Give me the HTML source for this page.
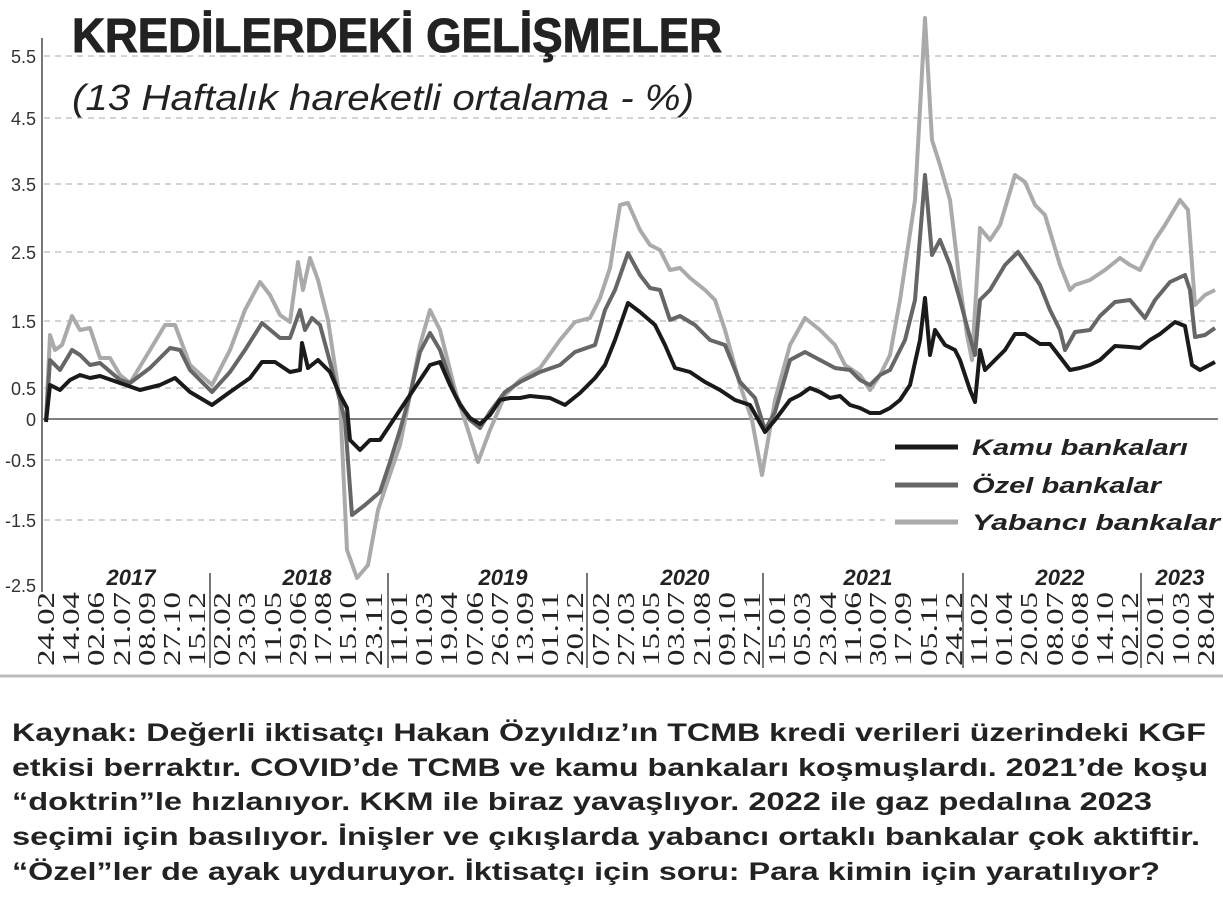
<!DOCTYPE html><html><head><meta charset="utf-8"><style>body{margin:0;background:#fff}svg{display:block}</style></head><body>
<svg width="1223" height="900" xmlns="http://www.w3.org/2000/svg" font-family="Liberation Sans, sans-serif">
<rect width="1223" height="900" fill="#fff"/>
<g stroke="#aaa" stroke-dasharray="6,5" stroke-width="1">
<line x1="44" x2="1218" y1="56" y2="56"/><line x1="44" x2="1218" y1="118" y2="118"/><line x1="44" x2="1218" y1="184" y2="184"/><line x1="44" x2="1218" y1="252" y2="252"/><line x1="44" x2="1218" y1="321" y2="321"/><line x1="44" x2="1218" y1="388" y2="388"/><line x1="44" x2="1218" y1="460" y2="460"/><line x1="44" x2="1218" y1="520" y2="520"/>
</g>
<line x1="42" x2="1218" y1="419" y2="419" stroke="#333" stroke-width="1.2"/>
<line x1="42" x2="42" y1="38" y2="592" stroke="#777" stroke-width="2"/>
<line x1="0" x2="1223" y1="676" y2="676" stroke="#bbb" stroke-width="3"/>
<g font-size="18" fill="#333" text-anchor="end" font-family="Liberation Sans Narrow, Liberation Sans, sans-serif">
<text x="36" y="63">5.5</text><text x="36" y="125">4.5</text><text x="36" y="191">3.5</text><text x="36" y="259">2.5</text><text x="36" y="328">1.5</text><text x="36" y="395">0.5</text><text x="36" y="426">0</text><text x="36" y="467">-0.5</text><text x="36" y="527">-1.5</text><text x="36" y="592">-2.5</text>
</g>
<text x="72" y="52" font-size="48" font-weight="bold" fill="#222" stroke="#222" stroke-width="1" textLength="650" lengthAdjust="spacingAndGlyphs">KREDİLERDEKİ GELİŞMELER</text>
<text x="72" y="110" font-size="36" font-style="italic" fill="#222" textLength="622" lengthAdjust="spacingAndGlyphs">(13 Haftalık hareketli ortalama - %)</text>
<g stroke="#777" stroke-width="2"><line x1="210" x2="210" y1="573" y2="668"/><line x1="388" x2="388" y1="573" y2="668"/><line x1="587" x2="587" y1="573" y2="668"/><line x1="763" x2="763" y1="573" y2="668"/><line x1="963" x2="963" y1="573" y2="668"/><line x1="1141" x2="1141" y1="573" y2="668"/></g>
<g font-size="22" font-weight="bold" font-style="italic" fill="#222" text-anchor="middle">
<text x="131" y="585">2017</text><text x="307" y="585">2018</text><text x="503" y="585">2019</text><text x="685" y="585">2020</text><text x="868" y="585">2021</text><text x="1060" y="585">2022</text><text x="1180" y="585">2023</text>
</g>
<polyline fill="none" stroke="#aaa" stroke-width="4" stroke-linejoin="round" points="46,420 50,335 55,350 62,345 72,316 80,330 90,328 100,358 110,358 120,375 130,383 150,350 165,325 175,325 190,365 212,385 230,350 245,310 260,282 270,295 280,315 290,322 298,262 303,290 310,258 318,280 328,320 340,400 347,550 357,578 368,565 378,510 388,480 400,445 410,395 420,345 430,310 440,330 455,390 468,430 478,462 490,430 505,395 520,380 540,368 560,340 575,322 590,318 600,298 610,268 620,205 628,203 640,230 650,245 660,250 670,270 680,268 690,278 705,290 715,300 725,330 740,385 752,420 762,475 775,400 790,345 805,318 820,330 835,345 845,365 860,375 870,390 880,375 890,355 900,300 915,200 925,18 932,140 940,165 950,200 960,285 967,335 972,360 980,228 990,240 1000,225 1015,175 1025,182 1035,205 1045,215 1060,265 1070,290 1075,285 1090,280 1105,270 1120,258 1130,265 1140,270 1155,240 1165,225 1180,200 1188,210 1195,305 1205,295 1215,290"/>
<polyline fill="none" stroke="#666" stroke-width="4" stroke-linejoin="round" points="46,420 50,360 60,370 72,350 80,355 90,365 100,363 120,380 130,383 150,368 170,348 180,350 190,370 212,392 230,372 245,350 262,323 280,338 290,338 300,310 305,330 312,318 320,325 330,362 345,420 352,515 365,505 380,492 390,462 400,430 410,395 420,352 430,333 440,350 455,395 470,420 480,428 490,412 505,392 520,382 540,372 560,365 575,352 595,345 605,310 615,290 628,253 640,275 650,288 660,290 670,320 680,316 695,325 710,340 725,345 740,382 755,398 765,430 775,412 790,360 805,352 820,360 835,368 850,370 860,380 870,385 880,375 890,370 905,340 915,300 925,175 932,255 940,240 950,265 960,300 968,330 975,355 980,300 990,290 1005,265 1018,252 1025,262 1040,285 1050,310 1060,330 1065,350 1075,332 1090,330 1100,316 1115,302 1130,300 1145,318 1155,300 1170,282 1185,275 1190,290 1195,337 1205,335 1215,328"/>
<polyline fill="none" stroke="#1a1a1a" stroke-width="4" stroke-linejoin="round" points="46,422 50,385 60,390 70,380 80,375 90,378 100,376 120,383 140,390 160,385 175,378 190,392 212,405 230,392 250,378 262,362 275,362 290,372 300,370 302,343 308,368 318,360 330,372 340,395 347,408 350,440 360,450 370,440 380,440 390,425 400,410 410,395 420,380 430,365 440,362 450,385 460,405 470,418 480,424 490,415 500,400 510,398 520,398 530,396 550,398 565,405 580,393 595,378 605,365 615,340 628,303 640,312 655,325 665,345 675,368 690,372 705,382 720,390 735,400 750,405 765,432 775,420 790,400 800,395 810,388 820,392 830,398 840,396 850,405 860,408 870,413 880,413 890,408 900,400 910,385 920,340 925,298 930,355 935,330 945,345 955,350 960,360 970,390 975,402 980,350 985,370 995,360 1005,350 1015,334 1025,334 1040,344 1050,344 1060,357 1070,370 1080,368 1090,365 1100,360 1115,346 1130,347 1140,348 1150,340 1160,334 1175,322 1185,326 1192,365 1200,370 1215,362"/>
<rect x="885" y="430" width="335" height="110" fill="#fff"/>
<line x1="895" x2="958" y1="447" y2="447" stroke="#1a1a1a" stroke-width="5"/>
<line x1="895" x2="958" y1="485" y2="485" stroke="#666" stroke-width="5"/>
<line x1="895" x2="958" y1="522" y2="522" stroke="#aaa" stroke-width="5"/>
<g font-size="22" font-weight="bold" font-style="italic" fill="#222">
<text x="972" y="455" textLength="216" lengthAdjust="spacingAndGlyphs">Kamu bankaları</text><text x="972" y="493" textLength="189" lengthAdjust="spacingAndGlyphs">Özel bankalar</text><text x="972" y="530" textLength="248" lengthAdjust="spacingAndGlyphs">Yabancı bankalar</text>
</g>
<g font-size="25" font-weight="bold" fill="#222">
<text x="12" y="741" textLength="1194" lengthAdjust="spacingAndGlyphs">Kaynak: Değerli iktisatçı Hakan Özyıldız’ın TCMB kredi verileri üzerindeki KGF</text>
<text x="12" y="776" textLength="1196" lengthAdjust="spacingAndGlyphs">etkisi berraktır. COVID’de TCMB ve kamu bankaları koşmuşlardı. 2021’de koşu</text>
<text x="12" y="810" textLength="1140" lengthAdjust="spacingAndGlyphs">“doktrin”le hızlanıyor. KKM ile biraz yavaşlıyor. 2022 ile gaz pedalına 2023</text>
<text x="12" y="845" textLength="1188" lengthAdjust="spacingAndGlyphs">seçimi için basılıyor. İnişler ve çıkışlarda yabancı ortaklı bankalar çok aktiftir.</text>
<text x="12" y="880" textLength="1148" lengthAdjust="spacingAndGlyphs">“Özel”ler de ayak uyduruyor. İktisatçı için soru: Para kimin için yaratılıyor?</text>
</g>
<g font-size="24" fill="#222" text-anchor="end" font-family="Liberation Serif, serif">
<text transform="translate(54,592) rotate(-90)" textLength="74" lengthAdjust="spacingAndGlyphs">24.02</text>
<text transform="translate(79,592) rotate(-90)" textLength="74" lengthAdjust="spacingAndGlyphs">14.04</text>
<text transform="translate(104,592) rotate(-90)" textLength="74" lengthAdjust="spacingAndGlyphs">02.06</text>
<text transform="translate(130,592) rotate(-90)" textLength="74" lengthAdjust="spacingAndGlyphs">21.07</text>
<text transform="translate(155,592) rotate(-90)" textLength="74" lengthAdjust="spacingAndGlyphs">08.09</text>
<text transform="translate(180,592) rotate(-90)" textLength="74" lengthAdjust="spacingAndGlyphs">27.10</text>
<text transform="translate(205,592) rotate(-90)" textLength="74" lengthAdjust="spacingAndGlyphs">15.12</text>
<text transform="translate(230,592) rotate(-90)" textLength="74" lengthAdjust="spacingAndGlyphs">02.02</text>
<text transform="translate(255,592) rotate(-90)" textLength="74" lengthAdjust="spacingAndGlyphs">23.03</text>
<text transform="translate(281,592) rotate(-90)" textLength="74" lengthAdjust="spacingAndGlyphs">11.05</text>
<text transform="translate(306,592) rotate(-90)" textLength="74" lengthAdjust="spacingAndGlyphs">29.06</text>
<text transform="translate(331,592) rotate(-90)" textLength="74" lengthAdjust="spacingAndGlyphs">17.08</text>
<text transform="translate(356,592) rotate(-90)" textLength="74" lengthAdjust="spacingAndGlyphs">15.10</text>
<text transform="translate(382,592) rotate(-90)" textLength="74" lengthAdjust="spacingAndGlyphs">23.11</text>
<text transform="translate(407,592) rotate(-90)" textLength="74" lengthAdjust="spacingAndGlyphs">11.01</text>
<text transform="translate(432,592) rotate(-90)" textLength="74" lengthAdjust="spacingAndGlyphs">01.03</text>
<text transform="translate(457,592) rotate(-90)" textLength="74" lengthAdjust="spacingAndGlyphs">19.04</text>
<text transform="translate(483,592) rotate(-90)" textLength="74" lengthAdjust="spacingAndGlyphs">07.06</text>
<text transform="translate(508,592) rotate(-90)" textLength="74" lengthAdjust="spacingAndGlyphs">26.07</text>
<text transform="translate(533,592) rotate(-90)" textLength="74" lengthAdjust="spacingAndGlyphs">13.09</text>
<text transform="translate(558,592) rotate(-90)" textLength="74" lengthAdjust="spacingAndGlyphs">01.11</text>
<text transform="translate(583,592) rotate(-90)" textLength="74" lengthAdjust="spacingAndGlyphs">20.12</text>
<text transform="translate(609,592) rotate(-90)" textLength="74" lengthAdjust="spacingAndGlyphs">07.02</text>
<text transform="translate(634,592) rotate(-90)" textLength="74" lengthAdjust="spacingAndGlyphs">27.03</text>
<text transform="translate(659,592) rotate(-90)" textLength="74" lengthAdjust="spacingAndGlyphs">15.05</text>
<text transform="translate(684,592) rotate(-90)" textLength="74" lengthAdjust="spacingAndGlyphs">03.07</text>
<text transform="translate(710,592) rotate(-90)" textLength="74" lengthAdjust="spacingAndGlyphs">21.08</text>
<text transform="translate(735,592) rotate(-90)" textLength="74" lengthAdjust="spacingAndGlyphs">09.10</text>
<text transform="translate(760,592) rotate(-90)" textLength="74" lengthAdjust="spacingAndGlyphs">27.11</text>
<text transform="translate(785,592) rotate(-90)" textLength="74" lengthAdjust="spacingAndGlyphs">15.01</text>
<text transform="translate(810,592) rotate(-90)" textLength="74" lengthAdjust="spacingAndGlyphs">05.03</text>
<text transform="translate(836,592) rotate(-90)" textLength="74" lengthAdjust="spacingAndGlyphs">23.04</text>
<text transform="translate(861,592) rotate(-90)" textLength="74" lengthAdjust="spacingAndGlyphs">11.06</text>
<text transform="translate(886,592) rotate(-90)" textLength="74" lengthAdjust="spacingAndGlyphs">30.07</text>
<text transform="translate(911,592) rotate(-90)" textLength="74" lengthAdjust="spacingAndGlyphs">17.09</text>
<text transform="translate(937,592) rotate(-90)" textLength="74" lengthAdjust="spacingAndGlyphs">05.11</text>
<text transform="translate(962,592) rotate(-90)" textLength="74" lengthAdjust="spacingAndGlyphs">24.12</text>
<text transform="translate(987,592) rotate(-90)" textLength="74" lengthAdjust="spacingAndGlyphs">11.02</text>
<text transform="translate(1012,592) rotate(-90)" textLength="74" lengthAdjust="spacingAndGlyphs">01.04</text>
<text transform="translate(1037,592) rotate(-90)" textLength="74" lengthAdjust="spacingAndGlyphs">20.05</text>
<text transform="translate(1063,592) rotate(-90)" textLength="74" lengthAdjust="spacingAndGlyphs">08.07</text>
<text transform="translate(1088,592) rotate(-90)" textLength="74" lengthAdjust="spacingAndGlyphs">06.08</text>
<text transform="translate(1113,592) rotate(-90)" textLength="74" lengthAdjust="spacingAndGlyphs">14.10</text>
<text transform="translate(1138,592) rotate(-90)" textLength="74" lengthAdjust="spacingAndGlyphs">02.12</text>
<text transform="translate(1163,592) rotate(-90)" textLength="74" lengthAdjust="spacingAndGlyphs">20.01</text>
<text transform="translate(1189,592) rotate(-90)" textLength="74" lengthAdjust="spacingAndGlyphs">10.03</text>
<text transform="translate(1214,592) rotate(-90)" textLength="74" lengthAdjust="spacingAndGlyphs">28.04</text>
</g>
</svg>
</body></html>
